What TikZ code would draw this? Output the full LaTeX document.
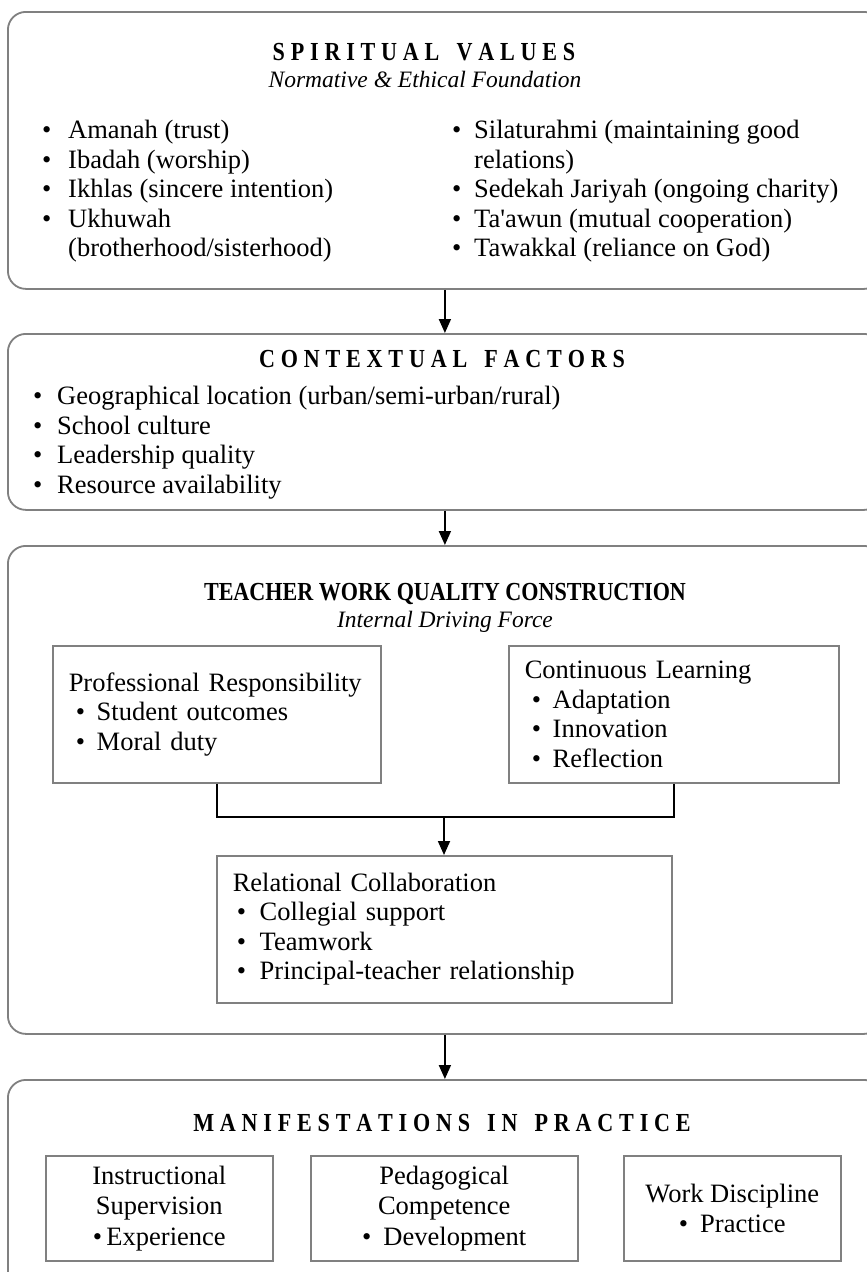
\documentclass[tikz,border=0pt]{standalone}
\usepackage{fontspec}
\setmainfont{Liberation Serif}
\newfontfamily\titlefont{Liberation Serif}[FakeStretch=0.85]
\usetikzlibrary{arrows.meta}
\definecolor{boxgray}{RGB}{128,128,128}
\makeatletter
\newcommand\spacedtext[1]{\@tfor\@ch:=#1\do{\@ch\kern5.8pt}\unkern}
\makeatother
\newcommand\bul[1]{\makebox[#1][l]{•}}
\newcommand\fl{\rule{0pt}{18pt}}
\newcommand\sq{{\addfontfeatures{Ligatures=TeXOff}'}}
\tikzset{
  outerbox/.style={draw=boxgray, line width=1.8pt, rounded corners=18pt, fill=white, inner sep=0pt, anchor=north west, minimum width=874pt},
  innerbox/.style={draw=boxgray, line width=1.5pt, fill=white, inner sep=0pt, anchor=north west},
  titletext/.style={font=\titlefont\bfseries\fontsize{26}{30}\selectfont, anchor=base, inner sep=0pt},
  subtitletext/.style={font=\itshape\fontsize{23.5}{28}\selectfont, anchor=base, inner sep=0pt},
  listtext/.style={align=left, anchor=north west, inner sep=0pt},
  arr/.style={line width=1.8pt, -{Triangle[length=14pt,width=12pt]}},
  conn/.style={line width=1.8pt}
}
\begin{document}
\begin{tikzpicture}[x=1pt, y=-1pt, font=\fontsize{26.5}{29.5}\selectfont]
\fill[white] (0,0) rectangle (867,1272);
\useasboundingbox (0,0) rectangle (867,1272);
\clip (0,0) rectangle (867,1272);

% boxes
\node[outerbox, minimum height=277pt] (sv) at (7,11) {};
\node[outerbox, minimum height=176pt] (cf) at (7,333) {};
\node[outerbox, minimum height=488pt] (tw) at (7,545) {};
\node[outerbox, minimum height=210pt] (mp) at (7,1079) {};

% spiritual values
\node[titletext] (svt) at (424,60) {\spacedtext{SPIRITUAL\ VALUES}};
\node[subtitletext] (svs) at (425,87) {Normative \& Ethical Foundation};
\node[listtext] (svl) at (42,120) {\fl\bul{26pt}Amanah (trust)\\
\bul{26pt}Ibadah (worship)\\
\bul{26pt}Ikhlas (sincere intention)\\
\bul{26pt}Ukhuwah\\
\hspace*{26pt}(brotherhood/sisterhood)};
\node[listtext] (svr) at (452,120) {\fl\bul{22pt}Silaturahmi (maintaining good\\
\hspace*{22pt}relations)\\
\bul{22pt}Sedekah Jariyah (ongoing charity)\\
\bul{22pt}Ta\sq awun (mutual cooperation)\\
\bul{22pt}Tawakkal (reliance on God)};

% contextual factors
\node[titletext] (cft) at (442,367) {\spacedtext{CONTEXTUAL\ FACTORS}};
\node[listtext] (cfl) at (33,386) {\fl\bul{24pt}Geographical location (urban/semi-urban/rural)\\
\bul{24pt}School culture\\
\bul{24pt}Leadership quality\\
\bul{24pt}Resource availability};

% teacher work quality construction
\node[titletext] (twt) at (445,600) {TEACHER WORK QUALITY CONSTRUCTION};
\node[subtitletext] (tws) at (445,627) {Internal Driving Force};
\node[innerbox, text width=296pt, inner xsep=16pt, minimum height=137pt, align=left] (pr) at (52,645) {Professional Responsibility\\
\hspace*{7pt}\bul{21pt}Student outcomes\\
\hspace*{7pt}\bul{21pt}Moral duty};
\node[innerbox, text width=298pt, inner xsep=16pt, minimum height=137pt, align=left] (cl) at (508,645) {Continuous Learning\\
\hspace*{7pt}\bul{21pt}Adaptation\\
\hspace*{7pt}\bul{21pt}Innovation\\
\hspace*{7pt}\bul{21pt}Reflection};
\node[innerbox, text width=423pt, inner xsep=16pt, minimum height=147pt, align=left] (rc) at (216,855) {Relational Collaboration\\
\hspace*{4pt}\bul{23pt}Collegial support\\
\hspace*{4pt}\bul{23pt}Teamwork\\
\hspace*{4pt}\bul{23pt}Principal-teacher relationship};
\coordinate (j) at (444,817);
\draw[conn] (pr.south) |- (j) -| (cl.south);
\draw[arr] (j) -- (rc.north -| j);

% manifestations
\node[titletext] (mpt) at (442,1131) {\spacedtext{MANIFESTATIONS\ IN\ PRACTICE}};
\node[innerbox, minimum width=227pt, minimum height=105pt, align=center, font=\fontsize{26.5}{30.5}\selectfont] (ma) at (45,1155) {Instructional\\Supervision\\•\,Experience};
\node[innerbox, minimum width=267pt, minimum height=105pt, align=center, font=\fontsize{26.5}{30.5}\selectfont] (mb) at (310,1155) {Pedagogical\\Competence\\•\hspace{12pt}Development};
\node[innerbox, minimum width=217pt, minimum height=105pt, align=center, font=\fontsize{26.5}{30.5}\selectfont] (mc) at (623,1155) {Work Discipline\\•\hspace{12pt}Practice};

% arrows between stages
\draw[arr] (sv.south) -- (cf.north);
\draw[arr] (cf.south) -- (tw.north);
\draw[arr] (tw.south) -- (mp.north);
\end{tikzpicture}
\end{document}
